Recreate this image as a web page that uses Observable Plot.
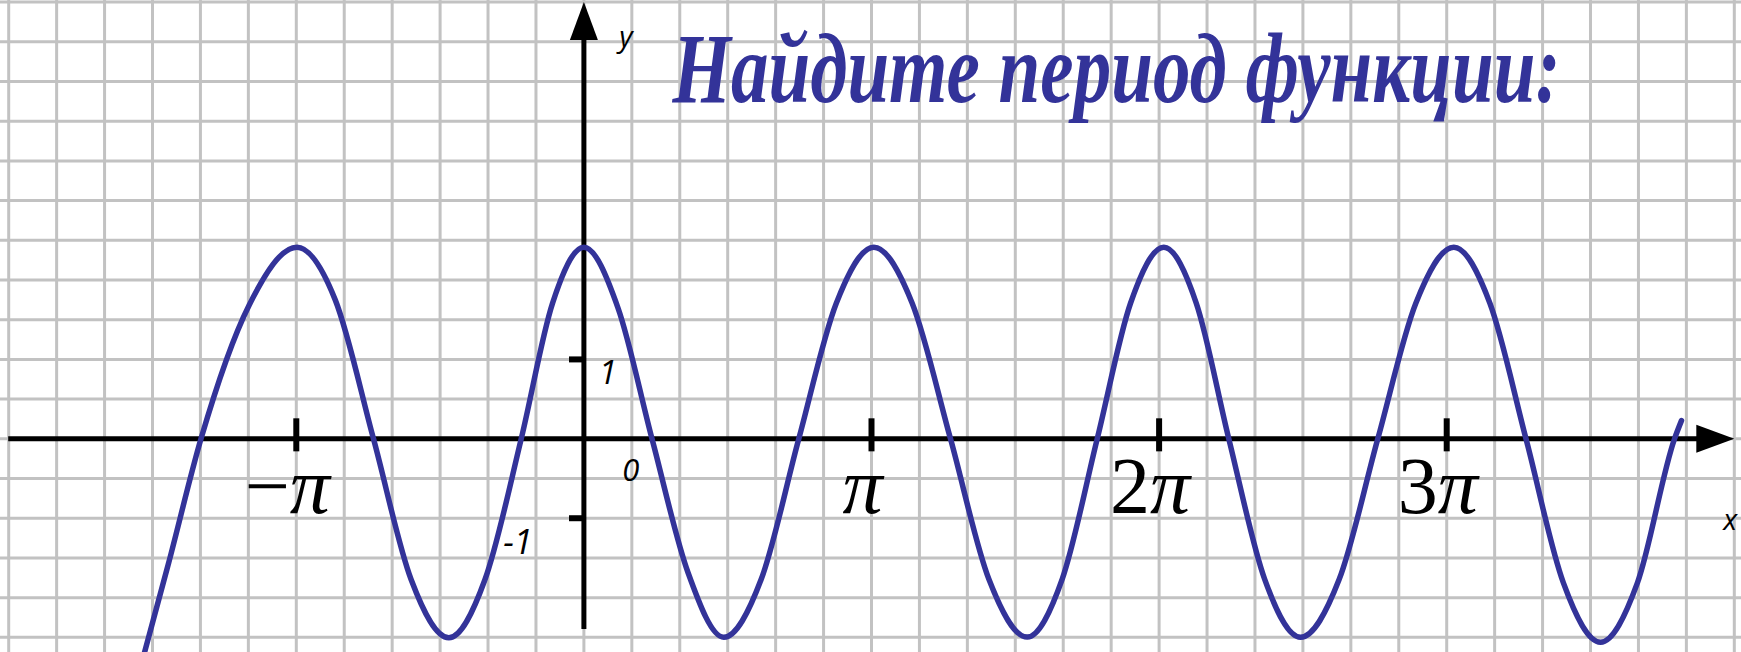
<!DOCTYPE html>
<html>
<head>
<meta charset="utf-8">
<script src="https://cdn.jsdelivr.net/npm/d3@7"></script>
<script src="https://cdn.jsdelivr.net/npm/@observablehq/plot@0.6"></script>
<style>
  html, body { margin: 0; padding: 0; background: #fff; }
  #chart svg { display: block; }
</style>
</head>
<body>
<div id="chart"></div>
<script>
// ---- data (x in multiples of π, y in units) ----
const curveX = [-1.5278, -1.4444, -1.3314, -1.1645, -0.9976, -0.8646, -0.7316, -0.6008,
  -0.4697, -0.3439, -0.2180, -0.1092, 0.0000, 0.1184, 0.2368, 0.3616, 0.4864, 0.6168,
  0.7472, 0.8776, 1.0080, 1.1415, 1.2747, 1.4079, 1.5414, 1.6631, 1.7848, 1.9006,
  2.0163, 2.1294, 2.2424, 2.3672, 2.4917, 2.6262, 2.7604, 2.8926, 3.0247, 3.1502,
  3.2757, 3.4054, 3.5348, 3.6634, 3.7921, 3.8164];
const curveY = [-2.691, -1.571, 0, 1.680, 2.413, 1.750, 0, -1.772,
  -2.506, -1.772, 0, 1.707, 2.413, 1.650, 0, -1.680, -2.499, -1.766,
  0, 1.707, 2.413, 1.707, 0, -1.766, -2.496, -1.766, 0, 1.707,
  2.413, 1.707, 0, -1.770, -2.499, -1.770, 0, 1.707, 2.413, 1.707,
  0, -1.811, -2.562, -1.811, 0, 0.230];

const xTickValues = [-1, 1, 2, 3];
const xTickLabels = ["−π", "π", "2π", "3π"];
const yTickValues = [1, -1];
const titleText = "Найдите период функции:";

// axis extents (x in π units, y in units)
const xAxisStart = -2, xAxisTip = 4.0;
const yAxisBottom = -2.4, yAxisTip = 5.5;

// grid: 6 cells per π horizontally, half-unit cells vertically
const gridX = d3.range(-12, 25).map(k => k / 6);
const gridY = d3.range(-5, 12).map(k => k / 2);

const blue = "#333399";

const arrowRight = {draw(ctx) { ctx.moveTo(0, 0); ctx.lineTo(-38, -14); ctx.lineTo(-38, 14); ctx.closePath(); }};
const arrowUp = {draw(ctx) { ctx.moveTo(0, 0); ctx.lineTo(-14, 38); ctx.lineTo(14, 38); ctx.closePath(); }};

const curveData = curveX.map((x, i) => ({x, y: curveY[i]}));

const chart = Plot.plot({
  width: 1741,
  height: 652,
  margin: 0,
  style: {background: "#ffffff", overflow: "visible"},
  x: {domain: [-2.0285, 4.025], axis: null},
  y: {domain: [-2.691, 5.520], axis: null},
  marks: [
    Plot.ruleX(gridX, {stroke: "#c2c2c2", strokeWidth: 3}),
    Plot.ruleY(gridY, {stroke: "#c2c2c2", strokeWidth: 3}),
    // axes
    Plot.ruleY([0], {x1: xAxisStart, x2: xAxisTip - 0.05, stroke: "#000", strokeWidth: 5}),
    Plot.ruleX([0], {y1: yAxisBottom, y2: yAxisTip - 0.2, stroke: "#000", strokeWidth: 5}),
    Plot.dot([{x: xAxisTip, y: 0}], {x: "x", y: "y", symbol: arrowRight, fill: "#000", stroke: null}),
    Plot.dot([{x: 0, y: yAxisTip}], {x: "x", y: "y", symbol: arrowUp, fill: "#000", stroke: null}),
    // ticks
    Plot.ruleX(xTickValues, {y1: -0.164, y2: 0.252, stroke: "#000", strokeWidth: 6}),
    Plot.ruleY(yTickValues, {x1: -0.05, x2: 0, stroke: "#000", strokeWidth: 6}),
    // curve
    Plot.line(curveData, {x: "x", y: "y", curve: "monotone-x", stroke: blue, strokeWidth: 5.5, clip: true}),
    // π tick labels
    Plot.text(xTickValues, {
      x: d => d, y: 0, text: (d, i) => xTickLabels[i],
      dx: -9, dy: 74, lineAnchor: "bottom",
      fontFamily: "Liberation Serif", fontSize: 80, fill: "#000"
    }),
    // small handwritten labels
    Plot.text(["1"], {x: 0, y: 1, text: d => d, dx: 24, dy: 14, lineAnchor: "middle",
      fontFamily: "Open Sans", fontStyle: "italic", fontWeight: 500, fontSize: 33, fill: "#000"}),
    Plot.text(["-1"], {x: 0, y: -1, text: d => d, dx: -66, dy: 25, lineAnchor: "middle",
      fontFamily: "Open Sans", fontStyle: "italic", fontWeight: 500, fontSize: 34, fill: "#000"}),
    Plot.text(["0"], {x: 0, y: 0, text: d => d, dx: 47, dy: 32, lineAnchor: "middle",
      fontFamily: "Open Sans", fontStyle: "italic", fontWeight: 500, fontSize: 31, fill: "#000"}),
    Plot.text(["y"], {x: 0, y: yAxisTip, text: d => d, dx: 42, dy: 36, lineAnchor: "middle",
      fontFamily: "Open Sans", fontStyle: "italic", fontSize: 29, fill: "#000"}),
    Plot.text(["x"], {x: xAxisTip, y: 0, text: d => d, dx: -4, dy: 82, lineAnchor: "middle",
      fontFamily: "Open Sans", fontStyle: "italic", fontSize: 29, fill: "#000"}),
    // title
    Plot.text([titleText], {
      frameAnchor: "top-left", text: d => d, dx: 672, dy: 101, lineAnchor: "bottom",
      textAnchor: "start", fontFamily: "Liberation Serif", fontStyle: "italic", fontWeight: "bold",
      fontSize: 100, fill: blue
    })
  ]
});

document.getElementById("chart").append(chart);

// make π italic (math style) inside tick labels, condense the title horizontally
d3.select(chart).selectAll("text").each(function() {
  const t = this.textContent;
  const sel = d3.select(this);
  if (xTickLabels.includes(t)) {
    const prefix = t.slice(0, -1);
    sel.text(null);
    if (prefix) sel.append("tspan").text(prefix);
    sel.append("tspan").attr("font-style", "italic").text("π");
  } else if (t === titleText) {
    const natural = this.getComputedTextLength();
    const sx = natural > 0 ? 888 / natural : 1;
    const tr = sel.attr("transform") || "";
    sel.attr("transform", `${tr} scale(${sx},1)`);
  }
});
</script>
</body>
</html>
